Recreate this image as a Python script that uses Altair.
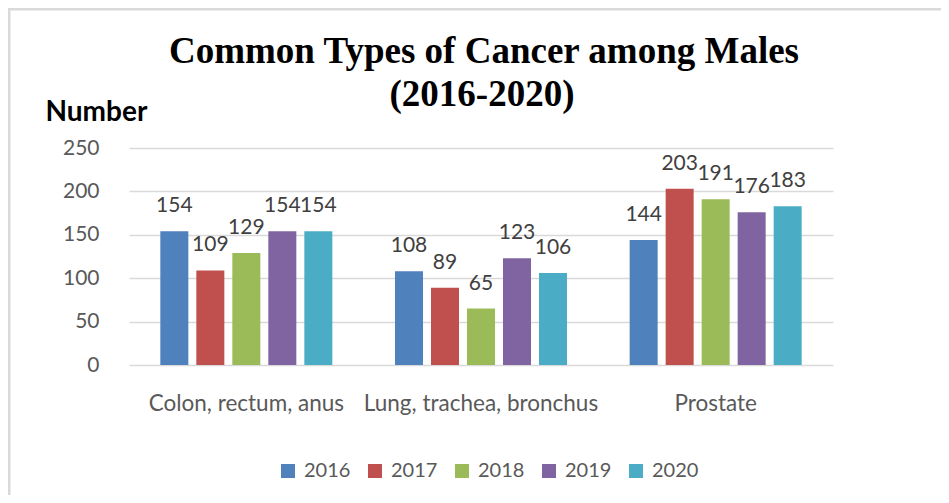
import altair as alt
import pandas as pd

categories = ["Colon, rectum, anus", "Lung, trachea, bronchus", "Prostate"]
years = ["2016", "2017", "2018", "2019", "2020"]
colon = [154, 109, 129, 154, 154]
lung = [108, 89, 65, 123, 106]
prostate = [144, 203, 191, 176, 183]
colors = ["#4F81BD", "#C0504D", "#9BBB59", "#8064A2", "#4BACC6"]
title_lines = ["Common Types of Cancer among Males", "(2016-2020)"]
y_ticks = [0, 50, 100, 150, 200, 250]

rows = []
for cat, vals in zip(categories, [colon, lung, prostate]):
    for yr, v in zip(years, vals):
        rows.append({"category": cat, "year": yr, "value": v})
df = pd.DataFrame(rows)

FONT = "Lato"
W, H = 704, 217

x_enc = alt.X("category:N", sort=categories,
              scale=alt.Scale(paddingInner=0, paddingOuter=0),
              axis=alt.Axis(title=None, labelAngle=0, labelFontSize=22.5, labelColor="#595959",
                            labelFont=FONT, labelPadding=27, labelLimit=0, ticks=False, tickSize=0,
                            domain=False, grid=False))
xoff = alt.XOffset("year:N", sort=years,
                   scale=alt.Scale(paddingInner=0.2222, paddingOuter=0.8704))
y_enc = alt.Y("value:Q", scale=alt.Scale(domain=[0, 250], nice=False),
              axis=alt.Axis(values=y_ticks, title="Number", titleAngle=0, titleX=-84, titleY=-28,
                            titleAlign="left", titleBaseline="alphabetic", titleFont=FONT,
                            titleFontSize=28, titleFontWeight="bold", titleColor="#000000",
                            labelFontSize=21, labelColor="#595959", labelFont=FONT,
                            labelPadding=30, ticks=False, tickSize=0, domain=False,
                            grid=True, gridColor="#d9d9d9", gridWidth=1.5))
color_enc = alt.Color("year:N", sort=years,
                      scale=alt.Scale(domain=years, range=colors),
                      legend=alt.Legend(title=None, orient="none", legendX=149, legendY=313,
                                        direction="horizontal", columns=5, symbolType="square",
                                        symbolSize=196, symbolStrokeWidth=0, labelFontSize=20,
                                        labelFont=FONT, labelColor="#595959", labelOffset=6,
                                        columnPadding=14, padding=0))

bars = alt.Chart(df).mark_bar().encode(x=x_enc, xOffset=xoff, y=y_enc, color=color_enc)

labels = alt.Chart(df).mark_text(baseline="alphabetic", dy=-19, fontSize=21, font=FONT,
                                 color="#404040").encode(
    x=alt.X("category:N", sort=categories),
    xOffset=alt.XOffset("year:N", sort=years),
    y=alt.Y("value:Q"), text="value:Q")

t1 = alt.Chart(pd.DataFrame({"t": [title_lines[0]]})).mark_text(
    font="Liberation Serif", fontSize=37, fontWeight="bold", color="#000000",
    baseline="alphabetic", align="center").encode(
    text="t:N", x=alt.value(355), y=alt.value(-85))
t2 = alt.Chart(pd.DataFrame({"t": [title_lines[1]]})).mark_text(
    font="Liberation Serif", fontSize=37, fontWeight="bold", color="#000000",
    baseline="alphabetic", align="center").encode(
    text="t:N", x=alt.value(353), y=alt.value(-42))

frame = alt.Chart(pd.DataFrame({"f": [0]})).mark_rect(
    fill=None, stroke="#d9d9d9", strokeWidth=3).encode(
    x=alt.value(-120), x2=alt.value(900), y=alt.value(-139), y2=alt.value(600))

chart = alt.layer(frame, bars, labels, t1, t2).properties(
    width=W, height=H,
    autosize=alt.AutoSizeParams(type="none"),
    padding={"left": 121, "top": 140, "right": 108, "bottom": 130},
).configure(font=FONT).configure_view(stroke=None)

chart.save("out.html", embed_options={"renderer": "svg", "actions": False})
